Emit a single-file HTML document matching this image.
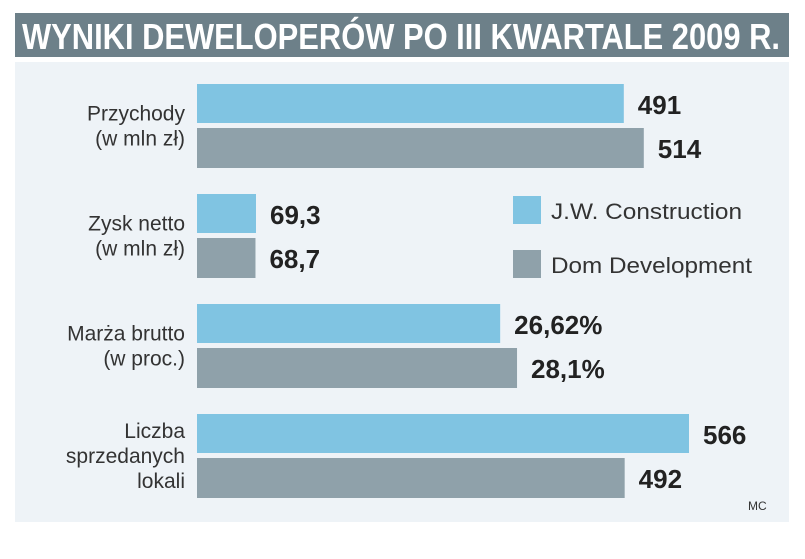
<!DOCTYPE html>
<html><head><meta charset="utf-8"><style>
html,body{margin:0;padding:0;background:#fff;}
svg{display:block;}
</style></head><body>
<svg id="c" width="805" height="559" xmlns="http://www.w3.org/2000/svg">
<rect x="15" y="13" width="774" height="44" fill="#6d8089"/>
<text x="22" y="49" font-family="'Liberation Sans Narrow','Liberation Sans',sans-serif" font-weight="bold" font-size="36" fill="#fff" textLength="758" lengthAdjust="spacingAndGlyphs">WYNIKI DEWELOPERÓW PO III KWARTALE 2009 R.</text>
<rect x="15" y="62" width="774" height="460" fill="#eef3f7"/>
<g id="bars"></g>
<rect x="513" y="196" width="28" height="28" fill="#80c4e2"/>
<text x="551" y="219" font-family="'Liberation Sans',sans-serif" font-size="22" fill="#333" textLength="191" lengthAdjust="spacingAndGlyphs">J.W. Construction</text>
<rect x="513" y="250" width="28" height="28" fill="#8fa1aa"/>
<text x="551" y="273" font-family="'Liberation Sans',sans-serif" font-size="22" fill="#333" textLength="201" lengthAdjust="spacingAndGlyphs">Dom Development</text>
<text x="748" y="510" font-family="'Liberation Sans',sans-serif" font-size="12" fill="#333">MC</text>
</svg>
<script>
const categories=[["Przychody","(w mln zł)"],["Zysk netto","(w mln zł)"],["Marża brutto","(w proc.)"],["Liczba","sprzedanych","lokali"]];
const jwValues=[491,69.3,26.62,566];
const domValues=[514,68.7,28.1,492];
const jwLabels=["491","69,3","26,62%","566"];
const domLabels=["514","68,7","28,1%","492"];
const scaleMax=[566,578,43.2,566];
const NS="http://www.w3.org/2000/svg";
const g=document.getElementById("bars");
const x0=197, fullW=492;
function xs(v,i){return v/scaleMax[i]*fullW;}
function mk(tag,attrs,txt){const e=document.createElementNS(NS,tag);for(const k in attrs)e.setAttribute(k,attrs[k]);if(txt!=null)e.textContent=txt;g.appendChild(e);return e;}
categories.forEach((cat,i)=>{
  const top=84+i*110;
  const w1=xs(jwValues[i],i), w2=xs(domValues[i],i);
  let e=mk("rect",{x:x0,y:top,width:w1,height:39,fill:"#80c4e2"});
  
  
  e=mk("rect",{x:x0,y:top+44,width:w2,height:40,fill:"#8fa1aa"});
  
  
  e=mk("text",{x:x0+w1+14,y:top+30,"font-family":"'Liberation Sans',sans-serif","font-weight":"bold","font-size":"26",fill:"#222"},jwLabels[i]);
  
  
  e=mk("text",{x:x0+w2+14,y:top+74,"font-family":"'Liberation Sans',sans-serif","font-weight":"bold","font-size":"26",fill:"#222"},domLabels[i]);
  
  
  const n=cat.length, lh=25, mid=top+42;
  cat.forEach((line,j)=>{
    const t=mk("text",{x:185,y:mid-(n-1)*lh/2+j*lh+7,"text-anchor":"end","font-family":"'Liberation Sans',sans-serif","font-size":"21",fill:"#333"},line);
    
    
  });
});
</script>
</body></html>
